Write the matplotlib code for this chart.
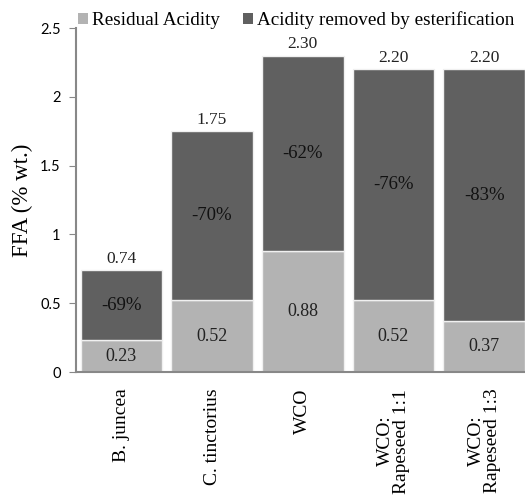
import numpy as np
import matplotlib
matplotlib.use('Agg')
import matplotlib.pyplot as plt

# data
categories = ['B. juncea', 'C. tinctorius', 'WCO', 'WCO:\nRapeseed 1:1', 'WCO:\nRapeseed 1:3']
residual = [0.23, 0.52, 0.88, 0.52, 0.37]
total = [0.74, 1.75, 2.30, 2.20, 2.20]
removed_pct = ['-69%', '-70%', '-62%', '-76%', '-83%']

removed = [t - r for t, r in zip(total, residual)]
light = '#b3b3b3'
dark = '#606060'
serif = 'Liberation Serif'

fig = plt.figure(figsize=(5.25, 4.97), dpi=100)
ax = fig.add_axes([76 / 525, 1 - 372 / 497, 1 - 76 / 525, 344 / 497])

x = np.arange(len(categories))
ax.bar(x, residual, width=0.9, color=light, edgecolor='#f0f0f0', linewidth=1,
       label='Residual Acidity')
ax.bar(x, removed, bottom=residual, width=0.9, color=dark, edgecolor='#f0f0f0',
       linewidth=1, label='Acidity removed by esterification')

for i in range(len(x)):
    ax.text(x[i], residual[i] / 2, '%.2f' % residual[i], ha='center', va='center',
            fontsize=13, family=serif, color='#222222')
    ax.text(x[i], (residual[i] + total[i]) / 2, removed_pct[i], ha='center',
            va='center', fontsize=13.5, family=serif, color='#111111')
    ax.text(x[i], total[i] + 0.025, '%.2f' % total[i], ha='center', va='bottom',
            fontsize=12.5, family=serif, color='#222222')

ax.set_xlim(-0.5, 4.45)
ax.set_ylim(0, 2.5)
ax.set_yticks([0, 0.5, 1, 1.5, 2, 2.5])
ax.set_yticklabels(['0', '0.5', '1', '1.5', '2', '2.5'], family='Lato', fontsize=10.5)
ax.set_xticks(x)
ax.set_xticklabels(categories, rotation=90, family=serif, fontsize=14,
                   ha='center', va='top', multialignment='center', linespacing=0.95)
ax.tick_params(axis='x', length=0, pad=12)
ax.tick_params(axis='y', length=5, color='#888888', direction='out', pad=6)
ax.set_ylabel('FFA (% wt.)', family=serif, fontsize=16.5, labelpad=5)

for s in ['top', 'right']:
    ax.spines[s].set_visible(False)
for s in ['left', 'bottom']:
    ax.spines[s].set_color('#888888')
    ax.spines[s].set_linewidth(1.5)

leg = fig.legend(loc='upper left', bbox_to_anchor=(66 / 525, 1.0), ncol=2, frameon=False,
                 prop={'family': serif, 'size': 13.8}, handlelength=0.55,
                 handleheight=0.55, handletextpad=0.2, columnspacing=1.2,
                 borderaxespad=0.2)
for h in leg.legend_handles:
    h.set_edgecolor('none')

fig.savefig('out.png', dpi=100)
